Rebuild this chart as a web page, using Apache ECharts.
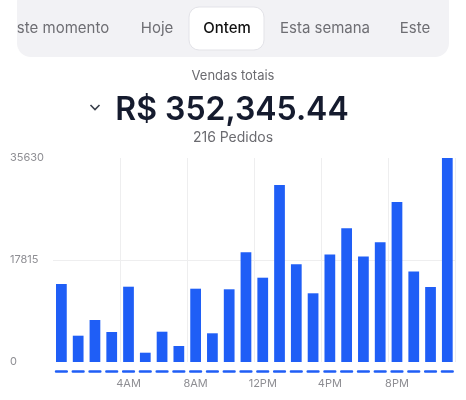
<!DOCTYPE html>
<html>
<head>
<meta charset="utf-8">
<script src="https://cdn.jsdelivr.net/npm/echarts@6/dist/echarts.min.js"></script>
<style>
html,body{margin:0;padding:0;background:#fff;}
#chart{width:466px;height:400px;}
</style>
</head>
<body>
<div id="chart"></div>
<script>
const hours = ['12AM','1AM','2AM','3AM','4AM','5AM','6AM','7AM','8AM','9AM','10AM','11AM',
               '12PM','1PM','2PM','3PM','4PM','5PM','6PM','7PM','8PM','9PM','10PM','11PM'];
const sales = [13623, 4594, 7336, 5240, 13152, 1624, 5292, 2795, 12803, 5013, 12698, 19160,
               14724, 30915, 17064, 11999, 18776, 23352, 18409, 20907, 27946, 15789, 13100, 35630];
const yTicks = [0, 17815, 35630];
const tabs = ['ste momento', 'Hoje', 'Ontem', 'Esta semana', 'Este'];
const tabX = [63, 157, 227, 325, 415];
const selectedTab = 2;
const totalLabel = 'Vendas totais';
const totalValue = 'R$ 352,345.44';
const ordersLabel = '216 Pedidos';

const FONT = 'Inter, "Noto Sans", sans-serif';
const chart = echarts.init(document.getElementById('chart'), null, {renderer: 'canvas'});

const graphics = [
  {type: 'rect', shape: {x: 17, y: -12, width: 432, height: 69, r: 14}, style: {fill: '#f2f2f5'}, z: 1},
  {type: 'rect', shape: {x: 189, y: 7, width: 75, height: 43, r: 10}, style: {fill: '#ffffff', stroke: '#e3e3e8', lineWidth: 1}, z: 2}
];
tabs.forEach((t, i) => {
  graphics.push({type: 'text', x: tabX[i], y: 28, z: 3,
    style: {text: t, font: (i === selectedTab ? '500 ' : '400 ') + '15px ' + FONT,
      fill: i === selectedTab ? '#111111' : '#6e6e73', textAlign: 'center', textVerticalAlign: 'middle'}});
});
graphics.push(
  {type: 'text', x: 233, y: 76, style: {text: totalLabel, font: '400 13px ' + FONT, fill: '#6b6b70', textAlign: 'center', textVerticalAlign: 'middle'}},
  {type: 'text', x: 232, y: 110, style: {text: totalValue, font: '600 32px ' + FONT, fill: '#151b2e', textAlign: 'center', textVerticalAlign: 'middle'}},
  {type: 'polyline', shape: {points: [[90.5, 105], [95, 109.5], [99.5, 105]]}, style: {stroke: '#3a3f4b', lineWidth: 1.6, fill: null}},
  {type: 'text', x: 233, y: 138, style: {text: ordersLabel, font: '400 14px ' + FONT, fill: '#6b6b70', textAlign: 'center', textVerticalAlign: 'middle'}}
);

const catW = (466 - 53 - 10.3) / hours.length;

chart.setOption({
  animation: false,
  backgroundColor: '#ffffff',
  textStyle: {fontFamily: FONT},
  grid: {left: 53, right: 10.3, top: 158, bottom: 38, containLabel: false},
  xAxis: {
    type: 'category',
    data: hours,
    boundaryGap: true,
    offset: 9,
    axisLine: {show: true, onZero: false, lineStyle: {color: '#1f5ef6', width: 2.5, type: [catW * 0.64, catW * 0.36], dashOffset: catW * 0.82}},
    axisTick: {show: false},
    axisLabel: {
      interval: (i) => i > 0 && i % 4 === 0,
      color: '#8e8e93', fontSize: 11, fontFamily: FONT, margin: 7
    },
    splitLine: {show: true, interval: (i) => i > 0 && i % 4 === 0, lineStyle: {color: '#eeeeef', width: 1}}
  },
  yAxis: {
    type: 'value',
    min: yTicks[0], max: yTicks[2], interval: yTicks[1],
    axisLine: {show: false}, axisTick: {show: false},
    axisLabel: {color: '#8e8e93', fontSize: 11, fontFamily: FONT, align: 'left', margin: 43, formatter: (v) => String(v)},
    splitLine: {show: true, lineStyle: {color: ['rgba(0,0,0,0)', '#eeeeef', 'rgba(0,0,0,0)'], width: 1}}
  },
  series: [{
    type: 'bar',
    data: sales,
    barWidth: '64%',
    itemStyle: {color: '#1f5ef6'},
    silent: true
  }],
  graphic: graphics
});
</script>
</body>
</html>
